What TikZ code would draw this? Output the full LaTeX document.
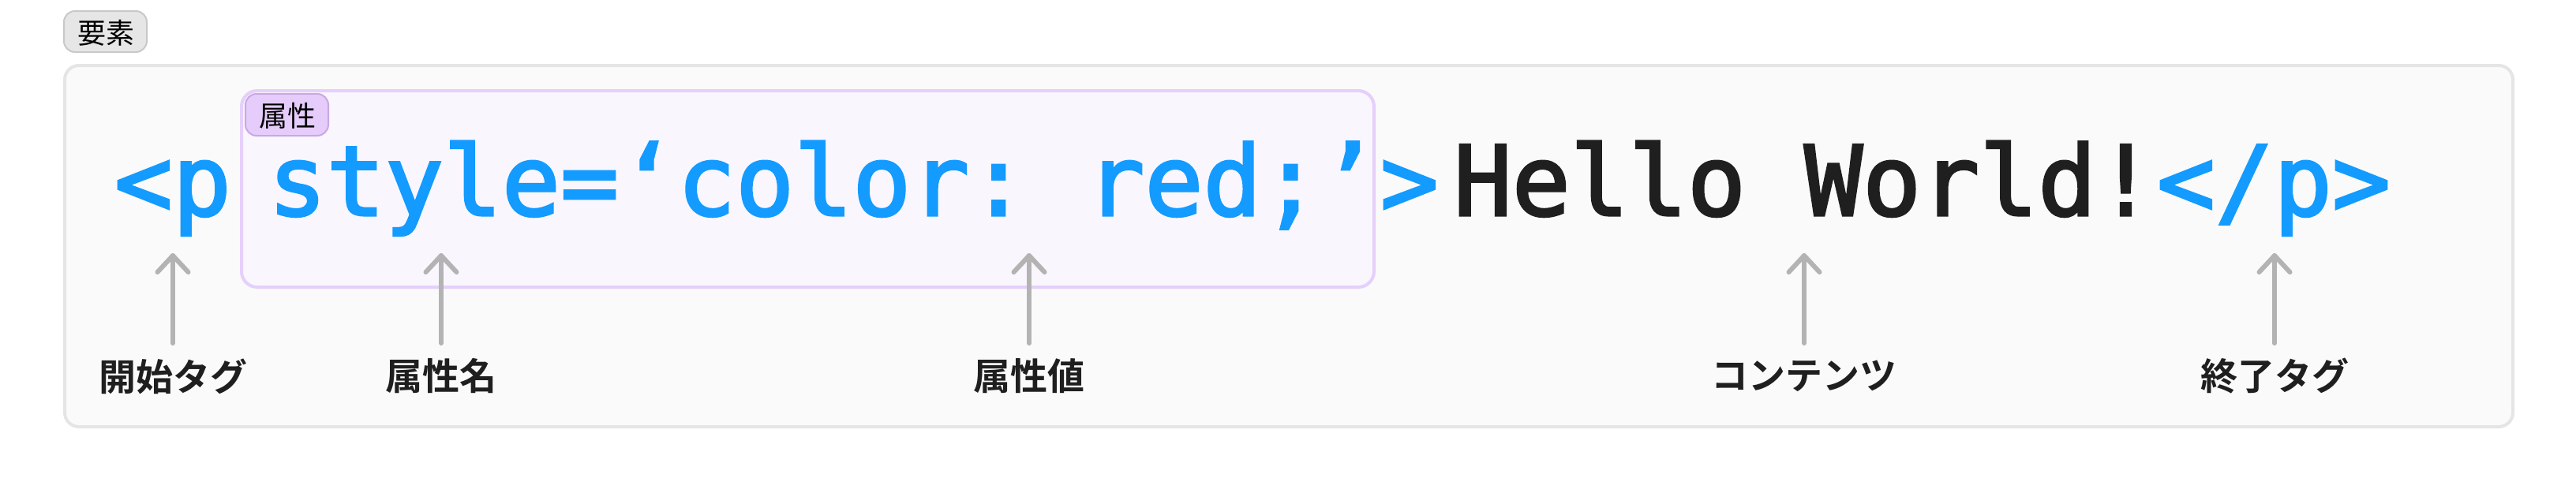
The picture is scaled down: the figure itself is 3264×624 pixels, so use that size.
\documentclass[tikz,border=0pt]{standalone}
\usepackage{fontspec}
\newfontfamily\codefont{DejaVu Sans Mono}[FakeBold=2.5]
\newfontfamily\jpfont{Noto Sans CJK JP}[BoldFont={Noto Sans CJK JP Bold}]
\definecolor{codeblue}{HTML}{139BFF}
\definecolor{inkdark}{HTML}{1F1F1F}
\definecolor{arrowgray}{HTML}{B3B3B3}
\definecolor{outerfill}{HTML}{FAFAFA}
\definecolor{outerline}{HTML}{E5E5E5}
\definecolor{attrfill}{HTML}{F9F6FE}
\definecolor{attrline}{HTML}{E5CFFB}
\definecolor{tagfill}{HTML}{E5CCFB}
\definecolor{tagline}{HTML}{C9A8E2}
\definecolor{elemfill}{HTML}{E6E6E6}
\definecolor{elemline}{HTML}{C8C8C8}
\tikzset{
  codetext/.style={inner sep=0pt, anchor=base west,
    font=\codefont\fontsize{30.75pt}{36pt}\selectfont\frenchspacing},
  labeltext/.style={inner sep=0pt, anchor=center, text=inkdark,
    font=\jpfont\bfseries\fontsize{11.75pt}{14pt}\selectfont},
  tagtext/.style={inner sep=0pt, anchor=center, text=black,
    font=\jpfont\fontsize{9pt}{11pt}\selectfont},
  arrowline/.style={draw=arrowgray, line width=1.5pt, line cap=round, line join=round},
}
\begin{document}
\begin{tikzpicture}[x=0.25pt, y=-0.25pt]
  \useasboundingbox (0,0) rectangle (3264,624);
  \fill[white] (0,0) rectangle (3264,624);
  % element tag
  \draw[fill=elemfill, draw=elemline, line width=0.5pt, rounded corners=3.5pt]
    (81,14) rectangle (186,66);
  \node[tagtext] (elemtag) at (134,42) {要素};
  % outer box
  \draw[fill=outerfill, draw=outerline, line width=1pt, rounded corners=4.5pt]
    (82,83) rectangle (3184,541);
  % attribute box
  \draw[fill=attrfill, draw=attrline, line width=1pt, rounded corners=5pt]
    (306,115) rectangle (1741,364);
  \draw[fill=tagfill, draw=tagline, line width=0.5pt, rounded corners=3.5pt]
    (311,119) rectangle (416,172);
  \node[tagtext] (attrtag) at (364,147) {属性};
  % code
  \node[codetext, text=codeblue] (open) at (144,273) {<p};
  \node[codetext, text=codeblue] (attr) at (339,273) {style=‘color: red;’};
  \node[codetext, text=codeblue] (openend) at (1748,273) {>};
  \node[codetext, text=inkdark] (content) at (1841,273) {Hello World!};
  \node[codetext, text=codeblue] (close) at (2732,273) {</p>};
  % labels
  \node[labeltext] (l1) at (219,477) {開始タグ};
  \node[labeltext] (l2) at (559,477) {属性名};
  \node[labeltext] (l3) at (1304,477) {属性値};
  \node[labeltext] (l4) at (2286,477) {コンテンツ};
  \node[labeltext] (l5) at (2882,477) {終了タグ};
  % arrow ends
  \foreach \i/\x in {1/219, 2/559, 3/1304, 4/2286, 5/2882} {
    \coordinate (t\i) at (\x,324);
    \coordinate (b\i) at (\x,435);
  }
  \foreach \i in {1,...,5} {
    \draw[arrowline] (b\i) -- (t\i);
    \draw[arrowline] (t\i) ++(-19.5,21) -- (t\i) -- ++(19.5,21);
  }
\end{tikzpicture}
\end{document}
